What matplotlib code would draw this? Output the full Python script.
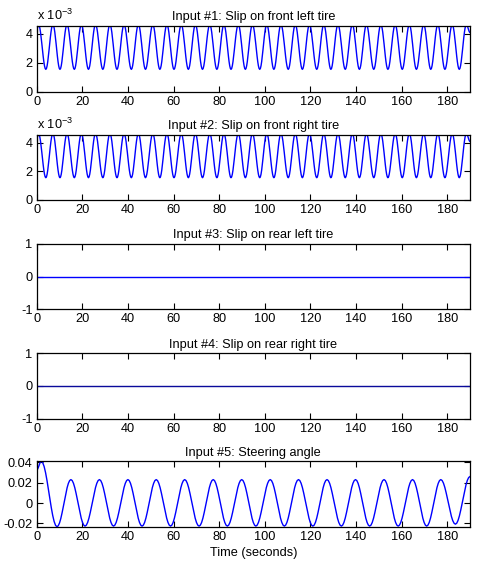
import matplotlib
matplotlib.use("Agg")
import matplotlib.pyplot as plt
import numpy as np

plt.rcParams['font.family'] = ['Liberation Sans', 'DejaVu Sans']
plt.rcParams['mathtext.default'] = 'regular'

# time range of the simulation (s)
t_end = 190

# slip on front tires: extrema (time s, value)
slip_peak_t = [0.8, 7.1, 13.3, 19.6, 25.8, 32.1, 38.3, 44.6, 50.9, 57.1,
               63.4, 69.6, 75.9, 82.1, 88.4, 94.6, 100.9, 107.1, 113.4, 119.6,
               125.9, 132.1, 138.4, 144.6, 150.9, 157.2, 163.4, 169.7, 175.9,
               182.2, 188.4]
slip_trough_t = [4.0, 10.2, 16.5, 22.7, 29.0, 35.2, 41.5, 47.7, 54.0, 60.2,
                 66.5, 72.7, 79.0, 85.2, 91.5, 97.8, 104.0, 110.3, 116.5,
                 122.8, 129.0, 135.3, 141.5, 147.8, 154.0, 160.3, 166.5,
                 172.8, 179.0, 185.3]
slip_peak = 4.65e-3
slip_trough = 1.56e-3
slip_start = 4.3e-3
slip_endval = 4.1e-3

# steering angle: extrema
steer_peak_t = [2.0, 15.0, 27.5, 40.0, 52.4, 64.9, 77.4, 89.9, 102.4, 114.8,
                127.3, 139.8, 152.3, 164.8, 177.2]
steer_peak_v = [0.041, 0.023, 0.023, 0.023, 0.023, 0.023, 0.023, 0.023,
                0.023, 0.023, 0.023, 0.023, 0.023, 0.023, 0.023]
steer_trough_t = [8.9, 21.2, 33.7, 46.2, 58.7, 71.2, 83.6, 96.1, 108.6,
                  121.1, 133.6, 146.0, 158.5, 171.0, 183.6]
steer_trough_v = [-0.0233, -0.0227, -0.0227, -0.0227, -0.0227, -0.0227,
                  -0.0227, -0.0227, -0.0227, -0.0227, -0.0227, -0.0227,
                  -0.0227, -0.0227, -0.0208]
steer_start = 0.0325
steer_endval = 0.026

# rear tires: no slip
rear_t = [0, t_end]
rear_v = [0, 0]

titles = ['Input #1: Slip on front left tire',
          'Input #2: Slip on front right tire',
          'Input #3: Slip on rear left tire',
          'Input #4: Slip on rear right tire',
          'Input #5: Steering angle']


def through_extrema(times, values, n=12):
    # smooth half-cosine segments between consecutive extrema
    order = np.argsort(times)
    times = np.asarray(times, float)[order]
    values = np.asarray(values, float)[order]
    tt, vv = [times[0]], [values[0]]
    for i in range(len(times) - 1):
        s = np.linspace(0, 1, n)[1:]
        tt.extend(times[i] + (times[i + 1] - times[i]) * s)
        vv.extend(values[i] + (values[i + 1] - values[i]) * (1 - np.cos(np.pi * s)) / 2)
    return np.array(tt), np.array(vv)


slip_t, slip_v = through_extrema(
    [0] + slip_peak_t + slip_trough_t + [t_end],
    [slip_start] + [slip_peak] * len(slip_peak_t)
    + [slip_trough] * len(slip_trough_t) + [slip_endval])
steer_t, steer_v = through_extrema(
    [0] + steer_peak_t + steer_trough_t + [t_end],
    [steer_start] + steer_peak_v + steer_trough_v + [steer_endval])

W, H = 487, 567
fig = plt.figure(figsize=(W / 100, H / 100), dpi=100)
left, right = 36.7, 470
boxes = [(26, 92), (135, 200), (244, 309.3), (353.3, 418.7), (461.3, 526.7)]
axes = []
for top, bot in boxes:
    ax = fig.add_axes([left / W, 1 - bot / H, (right - left) / W, (bot - top) / H])
    axes.append(ax)

series = [(slip_t, slip_v, 'blue'), (slip_t, slip_v, 'blue'),
          (rear_t, rear_v, 'blue'), (rear_t, rear_v, '#0a0a9a'),
          (steer_t, steer_v, 'blue')]

fs = 9.2
for ax, (x, y, c), ttl in zip(axes, series, titles):
    ax.plot(x, y, color=c, lw=1.0)
    ax.set_xlim(0, t_end)
    ax.set_xticks(range(0, 181, 20))
    ax.set_title(ttl, fontsize=fs, pad=4)
    ax.tick_params(direction='in', length=4, width=0.8, labelsize=fs,
                   top=True, right=True, pad=3)
    for sp in ax.spines.values():
        sp.set_linewidth(0.9)

for ax in axes[:2]:
    ax.set_ylim(0, 4.55e-3)
    ax.set_yticks([0, 2e-3, 4e-3])
    ax.set_yticklabels(['0', '2', '4'])
    ax.text(0, 1.05, r'x 10$^{-3}$', transform=ax.transAxes, fontsize=fs,
            ha='left', va='bottom')

for ax in axes[2:4]:
    ax.set_ylim(-1, 1)
    ax.set_yticks([-1, 0, 1])
    ax.set_yticklabels(['-1', '0', '1'])

axes[4].set_ylim(-0.0233, 0.041)
axes[4].set_yticks([-0.02, 0, 0.02, 0.04])
axes[4].set_yticklabels(['-0.02', '0', '0.02', '0.04'])
axes[4].set_xlabel('Time (seconds)', fontsize=fs, labelpad=3)

fig.savefig('out.png', dpi=100)
